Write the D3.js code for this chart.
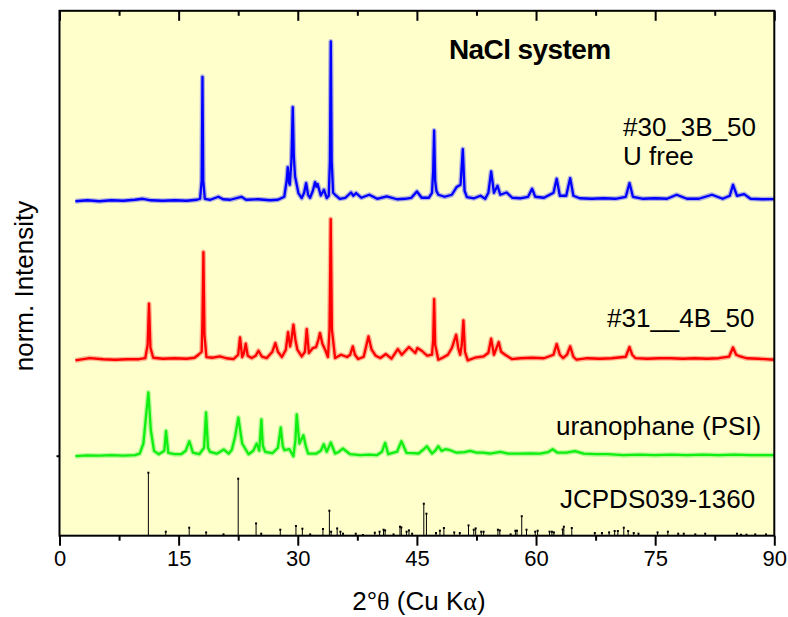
<!DOCTYPE html>
<html><head><meta charset="utf-8">
<script src="https://cdn.jsdelivr.net/npm/d3@7/dist/d3.min.js"></script>
<style>body{margin:0;background:#fff}text{font-family:"Liberation Sans",Arial,sans-serif}</style>
</head><body><svg id="c" width="788" height="617"></svg>
<script>
// ---- data (2θ in degrees, intensity in arbitrary units above each pattern's own baseline) ----
const xMajorTicks = [0, 15, 30, 45, 60, 75, 90];
const xMinorTicks = [7.5, 22.5, 37.5, 52.5, 67.5, 82.5];
const seriesLabels = ["#30_3B_50", "#31__4B_50", "uranophane (PSI)"];
const referenceLabel = "JCPDS039-1360";
const titleText = "NaCl system";
const subLabel = "U free";
const baselineOffsets = [335, 176, 80, 0];

const blueData = [
[2.0,-0.5],[3.5,0.5],[5.0,-0.5],[6.5,0.5],[8.0,0],[9.5,1],[10.5,2],[11.5,0.5],[13,0],[14.5,0.5],[16,0],[17.3,1],[17.7,2],
[17.9,20],[18.0,124],[18.1,20],[18.3,2],[19,1],[20,4],[20.6,1.5],[21.5,1],[22.9,4],[23.5,1],[25,1.5],[26.5,0.5],[27.5,1],
[28.3,4],[28.6,20],[28.74,33.7],[28.9,18],[29.0,16],[29.2,40],[29.37,93.7],[29.5,45],[29.66,24.3],[30.08,7.7],[30.5,2.7],
[30.8,8],[31.05,17.7],[31.3,6],[31.55,3],[31.9,10],[32.18,18.7],[32.35,14],[32.5,16.7],[32.9,5.3],[33.3,11],[33.65,2.7],
[33.9,5],[34.05,40],[34.16,159.3],[34.27,40],[34.45,8],[34.7,6],[35.3,2],[36.0,3],[36.7,8.3],[37.0,5],[37.35,7.7],[38.0,3],
[39.0,6],[40.0,2],[41.2,4.3],[42.5,1.5],[43.5,2],[44.3,3],[45.0,9.3],[45.6,3],[46.5,3],[46.9,8],[47.05,30],[47.17,70.3],[47.3,20],[47.45,10],
[47.7,6],[48.5,4],[49.4,6],[50.0,13.7],[50.5,16],[50.78,51.7],[51.0,10],[51.3,3.7],[52.2,2.5],[53.0,5],[53.6,2],[54.0,8],
[54.35,29.3],[54.7,8],[55.15,15],[55.5,6],[56.3,8.3],[57,3],[58,2.5],[59.0,4],[59.5,12],[59.9,4],[61.0,3],[62.2,8],[62.6,22],
[63.0,5],[63.8,5],[64.3,22.7],[64.7,5],[65.5,2.5],[67,2],[68.5,2.5],[70,2],[71.3,4],[71.77,17.7],[72.2,4],[73.5,2],[75,2.5],
[76.5,2],[77.7,6],[79,2],[80.5,2],[82.15,6],[83.5,2],[84.4,5],[84.8,16],[85.3,5],[86.2,6.7],[87,2],[88.5,1.5],[90,1.7]
];

const redData = [
[2.0,-0.7],[3.8,1.7],[5.5,0.5],[7,0],[8.5,0.5],[10,0.5],[10.8,1.5],[11.1,15],[11.27,56],[11.45,12],[11.8,2],[13,1],[14.5,1.5],
[16,1],[17.0,2],[17.5,5],[17.9,8],[18.0,40],[18.12,107.7],[18.25,25],[18.5,2.7],[19.3,2],[20.2,3.3],[21,1.5],[21.9,0.7],
[22.5,5],[22.73,22.3],[23.0,2.7],[23.2,6],[23.45,16],[23.7,4],[24.2,1.7],[24.7,4],[25.05,9],[25.5,3],[26.1,1.7],[26.8,8],
[27.18,16.7],[27.5,8],[28.0,2.7],[28.5,10],[28.78,27.7],[29.03,13.3],[29.2,20],[29.45,35],[29.7,20],[29.95,10],[30.5,3.3],
[30.9,8],[31.13,30.7],[31.4,6.7],[31.9,11.7],[32.3,12.7],[32.6,20],[32.8,26.7],[33.1,16],[33.45,10],[33.8,2.7],[34.0,30],
[34.15,140.7],[34.3,30],[34.7,1.7],[35.45,5],[36.2,2.7],[36.6,5],[36.93,13.3],[37.2,5],[37.6,0.7],[38.3,3],[38.9,23.3],
[39.3,10],[39.8,4],[40.4,1.7],[41.1,5.7],[41.8,1],[42.6,10.7],[43.1,5],[44.0,12.7],[44.8,6.7],[45.07,11.7],[45.6,9],[46.3,4],
[46.9,5],[47.05,20],[47.17,60.7],[47.3,15],[47.7,0],[48.3,2.3],[48.9,5],[49.4,11.7],[49.94,25],[50.2,12],[50.45,5],[50.65,15],
[50.86,39.3],[51.05,8],[51.4,-0.7],[52.3,2],[53.4,3.3],[54.0,7],[54.35,21],[54.7,5],[55.3,17.7],[55.6,8],[56.1,5],[56.96,0.7],
[58,1.5],[59.5,2],[61,1.5],[62.2,5],[62.6,15.7],[63.0,5],[63.4,1.7],[63.9,5],[64.3,13.3],[64.7,3],[65.1,0],[66.5,1.5],[68,1],
[69.5,1.5],[71.3,3],[71.77,12.7],[72.1,5],[72.5,1.7],[74,1],[75.5,1.5],[77,1.5],[78.5,1],[80,1.5],[81.5,1],[83,1.5],[84.3,3],
[84.8,12.3],[85.2,5],[85.7,3.3],[86.5,1.5],[88,1],[90,0]
];

const greenData = [
[2.0,-0.5],[3.5,0.3],[5,0],[6.5,0.5],[8,0],[9.5,0.5],[10.1,2],[10.56,12.2],[10.9,40],[11.19,63.2],[11.5,25.5],[11.9,4.8],
[12.5,1.5],[13.2,5],[13.41,24.8],[13.7,2.8],[14.5,1.5],[15.3,1.5],[15.9,5],[16.35,14.5],[16.8,3],[17.6,1.5],[18.2,8],
[18.45,43.2],[18.7,8],[18.96,3.8],[19.8,2],[20.7,6.2],[21.3,2],[21.7,6],[22.1,18.8],[22.52,38.2],[23.0,12.2],[23.8,1.5],
[24.4,5],[24.83,12.2],[25.15,5],[25.42,36.2],[25.6,10],[25.9,3.8],[26.8,2.5],[27.5,8],[27.86,28.2],[28.1,10],[28.3,5.5],
[28.95,6.5],[29.45,-0.5],[29.7,15],[29.87,41.2],[30.2,12.2],[30.71,20.5],[31.0,10],[31.3,2.2],[32.3,2],[32.9,5],[33.27,11.5],
[33.65,3.8],[34.16,13.2],[34.7,2.2],[35.2,4],[35.67,7.2],[36.6,1.5],[37.85,0.5],[39,1],[39.95,0.5],[40.6,4],[41.0,12.8],
[41.4,1.5],[42.5,4],[43.05,14.5],[43.7,2.8],[44.5,2.5],[45.2,2.2],[45.8,6],[46.25,9.5],[46.9,2.2],[47.3,5],[47.7,9.5],
[48.1,4.8],[48.6,6.5],[49.2,5.5],[50.0,3],[51.0,3.5],[51.7,4.8],[52.5,3],[53.3,3],[54.2,2.2],[55.5,3.8],[56.5,2],[57.8,2],
[59.3,2.2],[60.5,2],[61.5,3.5],[62.1,6.5],[62.7,3],[63.8,3],[64.9,4.5],[66,2],[67.5,1.5],[69,1.5],[71.0,0.5],[73,1],[75,0.5],
[77,1],[79,0.5],[81,1],[83,0.5],[85,1],[87,0.5],[90,0.5]
];

const stickData = [
[11.19,63],[13.38,4],[16.33,8],[18.46,3.3],[20.65,1.3],[22.5,57],[24.75,12.3],[25.4,2],[27.8,6],[29.77,9.7],[30.58,7],
[31.56,1.3],[33.17,6.7],[33.98,25],[34.2,4],[34.96,7.3],[35.37,4],[35.7,2],[37.3,2],[38.2,0.7],[39.7,3],[40.3,4],[40.8,6],
[41.0,5.3],[42.06,1.3],[42.87,9],[43.04,8.3],[43.7,4],[44.0,5.3],[44.4,2],[45.87,32],[46.2,22],[47.4,2.7],[47.9,5],[48.4,7.7],
[49.7,3.3],[50.4,2.7],[51.5,10.3],[52.16,6],[52.4,7.3],[53.1,4],[53.4,4],[55.2,6],[55.44,5.3],[56.8,1.3],[57.4,5],[57.6,5],
[58.2,19.5],[58.8,6],[59.9,4],[60.2,5],[61.7,4],[62.0,4],[62.25,3.3],[63.35,6.3],[63.5,9],[64.5,7.7],[67.4,2.7],[68.3,2.7],
[69.2,3.3],[69.9,4.7],[70.3,4.7],[71.05,8],[71.6,4.7],[72.3,2.7],[72.9,2],[75.3,3.3],[76.6,4],[77.9,2],[78.6,2],[80.05,1.3],
[81.3,2],[85.3,2],[85.8,1],[86.5,1],[87.6,1.3],[88.96,1.3]
];

// ---- drawing ----
const svg = d3.select("#c");
const L = 59.5, R = 774.3, T = 10.8, B = 535.7;
const x = d3.scaleLinear().domain([0, 90]).range([L, R]);
const y = d3.scaleLinear().domain([0, 525]).range([B, T]);

svg.append("rect").attr("x", L).attr("y", T).attr("width", R - L).attr("height", B - T).attr("fill", "#FFFFCC");
svg.append("clipPath").attr("id", "clip").append("rect").attr("x", L).attr("y", T).attr("width", R - L).attr("height", B - T);

const plot = svg.append("g").attr("clip-path", "url(#clip)");
const patterns = [blueData, redData, greenData];
const colors = ["#0000FF", "#FF0000", "#11EE11"];
patterns.forEach((d, i) => {
  const off = baselineOffsets[i];
  const line = d3.line().x(p => x(p[0])).y(p => y(p[1] + off));
  plot.append("path").datum(d).attr("d", line).attr("fill", "none")
    .attr("stroke", colors[i]).attr("stroke-width", 5).attr("stroke-opacity", 0.3).attr("stroke-linejoin", "round");
  plot.append("path").datum(d).attr("d", line).attr("fill", "none")
    .attr("stroke", colors[i]).attr("stroke-width", 2.3).attr("stroke-linejoin", "round");
});

const st = plot.append("g");
st.selectAll("line").data(stickData).join("line")
  .attr("x1", d => x(d[0])).attr("x2", d => x(d[0]))
  .attr("y1", y(baselineOffsets[3])).attr("y2", d => y(d[1] + baselineOffsets[3]))
  .attr("stroke", "#000").attr("stroke-width", 1);
st.selectAll("rect").data(stickData).join("rect")
  .attr("x", d => x(d[0]) - 1).attr("y", d => y(d[1] + baselineOffsets[3]) - 1)
  .attr("width", 2).attr("height", 2).attr("fill", "#000");

// axes
const fontTick = 22;
const xb = svg.append("g").attr("transform", `translate(0,${B})`)
  .call(d3.axisBottom(x).tickValues(xMajorTicks).tickSize(10).tickPadding(5).tickFormat(d3.format("d")));
xb.select(".domain").remove();
xb.selectAll("line").attr("stroke", "#000").attr("stroke-width", 2);
xb.selectAll("text").attr("font-size", fontTick).attr("fill", "#000").style("font-family", '"Liberation Sans",Arial,sans-serif');
const xbm = svg.append("g").attr("transform", `translate(0,${B})`)
  .call(d3.axisBottom(x).tickValues(xMinorTicks).tickSize(5).tickFormat(""));
xbm.select(".domain").remove();
xbm.selectAll("line").attr("stroke", "#000").attr("stroke-width", 2);

const xt = svg.append("g").attr("transform", `translate(0,${T})`)
  .call(d3.axisTop(x).tickValues(xMajorTicks).tickSize(-10).tickFormat(""));
xt.select(".domain").remove();
xt.selectAll("line").attr("stroke", "#000").attr("stroke-width", 2);
const xtm = svg.append("g").attr("transform", `translate(0,${T})`)
  .call(d3.axisTop(x).tickValues(xMinorTicks).tickSize(-5).tickFormat(""));
xtm.select(".domain").remove();
xtm.selectAll("line").attr("stroke", "#000").attr("stroke-width", 2);

const yl = svg.append("g").attr("transform", `translate(${L},0)`)
  .call(d3.axisLeft(y).tickValues([baselineOffsets[2]]).tickSize(3).tickFormat(""));
yl.select(".domain").remove();
yl.selectAll("line").attr("stroke", "#000").attr("stroke-width", 2);

// frame
svg.append("rect").attr("x", L).attr("y", T).attr("width", R - L).attr("height", B - T)
  .attr("fill", "none").attr("stroke", "#000").attr("stroke-width", 2);

// labels
const lab = (t, px, py, size, weight) => svg.append("text").attr("x", px).attr("y", py)
  .attr("font-size", size).attr("font-weight", weight || "normal").attr("fill", "#000").text(t);
lab(titleText, 449, 59, 28, "bold").attr("letter-spacing", -0.6);
lab(seriesLabels[0], 623, 136, 26);
lab(subLabel, 623, 165, 26);
lab(seriesLabels[1], 607, 327, 26);
lab(seriesLabels[2], 556, 435, 26);
lab(referenceLabel, 560, 508, 26);

const xl = svg.append("text").attr("x", (L + R) / 2 + 2).attr("y", 610).attr("text-anchor", "middle")
  .attr("font-size", 26).attr("fill", "#000");
xl.append("tspan").text("2°");
xl.append("tspan").style("font-family", '"Liberation Serif","Times New Roman",serif').text("θ");
xl.append("tspan").text(" (Cu K");
xl.append("tspan").style("font-family", '"Liberation Serif","Times New Roman",serif').text("α");
xl.append("tspan").text(")");

svg.append("text").attr("transform", `translate(33,286) rotate(-90)`).attr("text-anchor", "middle")
  .attr("font-size", 26).attr("fill", "#000").text("norm. Intensity");
</script></body></html>
